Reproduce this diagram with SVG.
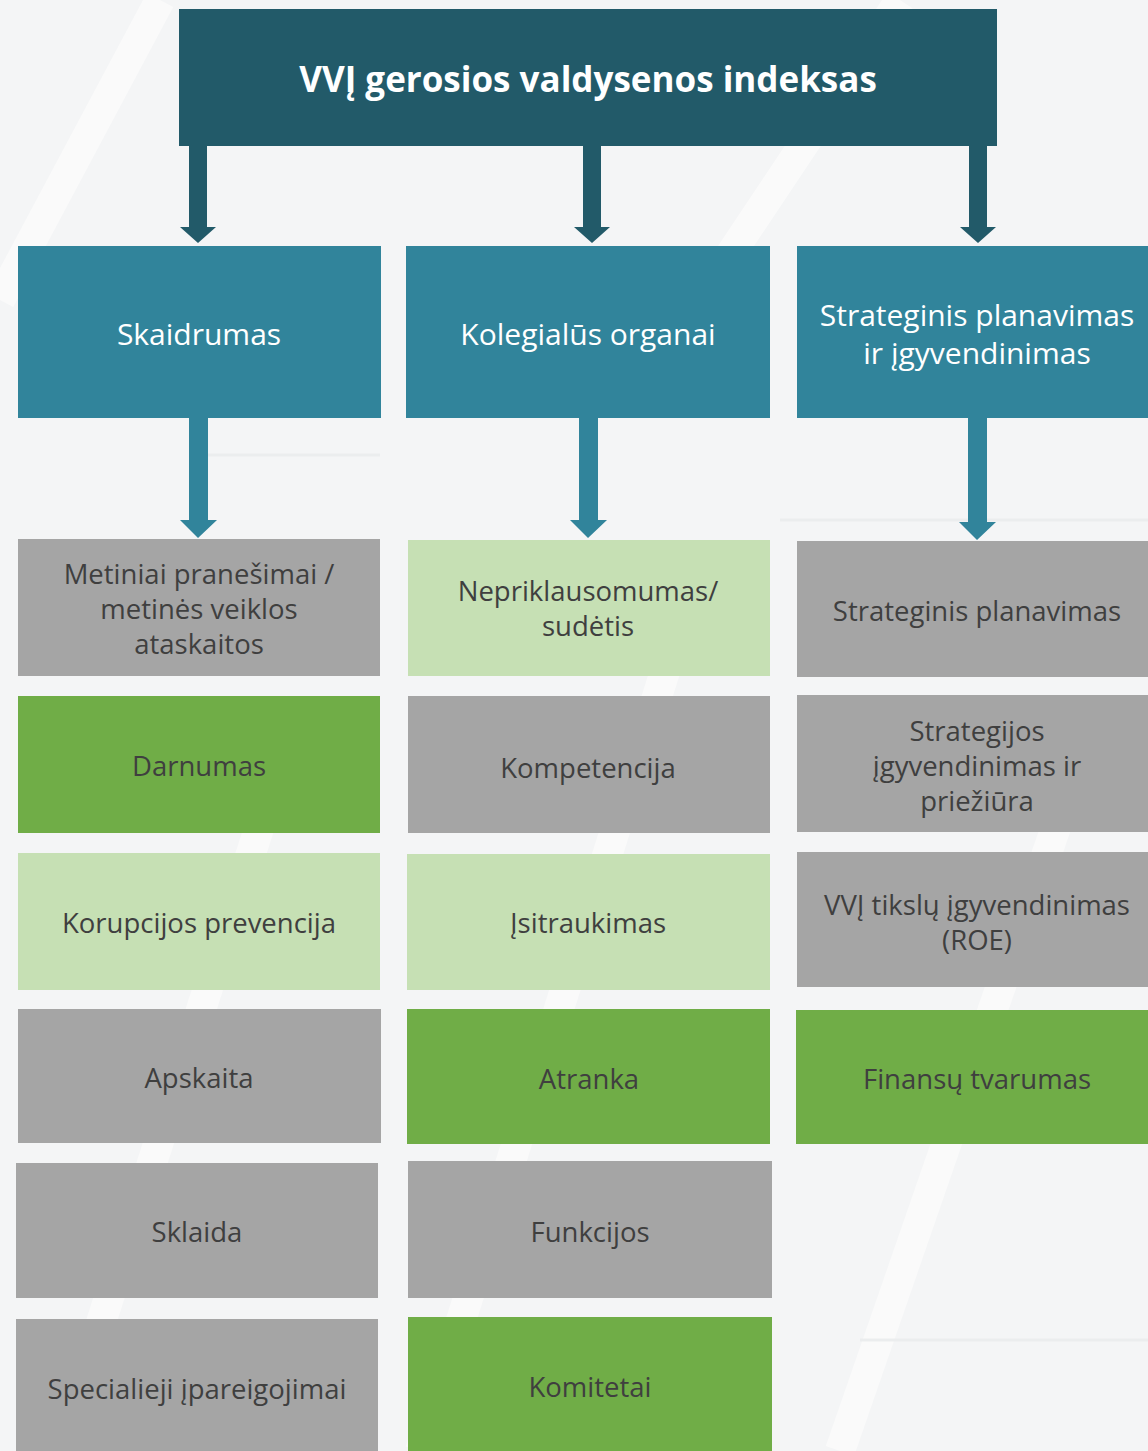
<svg xmlns="http://www.w3.org/2000/svg" width="1148" height="1451" viewBox="0 0 1148 1451">
<defs>
<style>
.bg{fill:#f4f5f6}
.top{fill:#225a69}
.l2{fill:#31849b}
.gray{fill:#a5a5a5}
.green{fill:#70ad47}
.lgreen{fill:#c6e0b4}
.ttl{font-family:"Open Sans","Noto Sans",sans-serif;font-weight:bold;font-size:35px;fill:#ffffff;text-anchor:middle;dominant-baseline:central}
.t2{font-family:"Open Sans","Noto Sans",sans-serif;font-size:30px;fill:#ffffff;text-anchor:middle;dominant-baseline:central}
.t3{font-family:"Open Sans","Noto Sans",sans-serif;font-size:27.5px;fill:#3f3f3f;text-anchor:middle;dominant-baseline:central}
.a1{fill:#225a69}
.a2{fill:#31849b}
.deco{fill:none;stroke:#ebedee;stroke-width:3}
.deco2{fill:none;stroke:#fafafa;stroke-width:30}
</style>
</defs>
<rect class="bg" x="0" y="0" width="1148" height="1451"/>
<g id="background">
<path class="deco2" d="M60 1451 L300 700 M420 1451 L700 560 M840 1451 L1100 700 M0 300 L160 0 M700 300 L900 0"/>
<path class="deco" d="M230 1165 L375 1165 M540 1180 L760 1180 M860 1340 L1148 1340 M200 455 L380 455 M780 520 L1148 520"/>
</g>
<g id="connectors">
<path class="a1" d="M189 146 H207 V227 H216 L198 243 L180 227 H189 Z"/>
<path class="a1" d="M583 146 H601 V227 H610 L592 243 L574 227 H583 Z"/>
<path class="a1" d="M969 146 H987 V227 H996 L978 243 L960 227 H969 Z"/>
<path class="a2" d="M189 418 H208 V520 H217 L198 538 L180 520 H189 Z"/>
<path class="a2" d="M579 418 H598 V520 H607 L588 538 L570 520 H579 Z"/>
<path class="a2" d="M968 418 H987 V522 H996 L977 540 L959 522 H968 Z"/>
</g>
<g id="root"><rect class="top" x="179" y="9" width="818" height="137"/><text class="ttl" x="588" y="78">VVĮ gerosios valdysenos indeksas</text></g>
<g id="skaidrumas"><rect class="l2" x="18" y="246" width="363" height="172"/><text class="t2" x="199" y="333">Skaidrumas</text></g>
<g id="kolegialus"><rect class="l2" x="406" y="246" width="364" height="172"/><text class="t2" x="588" y="333">Kolegialūs organai</text></g>
<g id="strateginis"><rect class="l2" x="797" y="246" width="351" height="172"/><text class="t2" x="977" y="314">Strateginis planavimas</text><text class="t2" x="977" y="352">ir įgyvendinimas</text></g>

<g id="metiniai"><rect class="gray" x="18" y="539" width="362" height="137"/><text class="t3" x="199" y="573">Metiniai pranešimai /</text><text class="t3" x="199" y="608">metinės veiklos</text><text class="t3" x="199" y="643">ataskaitos</text></g>
<g id="darnumas"><rect class="green" x="18" y="696" width="362" height="137"/><text class="t3" x="199" y="765">Darnumas</text></g>
<g id="korupcijos"><rect class="lgreen" x="18" y="853" width="362" height="137"/><text class="t3" x="199" y="922">Korupcijos prevencija</text></g>
<g id="apskaita"><rect class="gray" x="18" y="1009" width="363" height="134"/><text class="t3" x="199" y="1077">Apskaita</text></g>
<g id="sklaida"><rect class="gray" x="16" y="1163" width="362" height="135"/><text class="t3" x="197" y="1231">Sklaida</text></g>
<g id="specialieji"><rect class="gray" x="16" y="1319" width="362" height="132"/><text class="t3" x="197" y="1388">Specialieji įpareigojimai</text></g>

<g id="nepriklausomumas"><rect class="lgreen" x="408" y="540" width="362" height="136"/><text class="t3" x="588" y="590">Nepriklausomumas/</text><text class="t3" x="588" y="625">sudėtis</text></g>
<g id="kompetencija"><rect class="gray" x="408" y="696" width="362" height="137"/><text class="t3" x="588" y="767">Kompetencija</text></g>
<g id="isitraukimas"><rect class="lgreen" x="407" y="854" width="363" height="136"/><text class="t3" x="588" y="922">Įsitraukimas</text></g>
<g id="atranka"><rect class="green" x="407" y="1009" width="363" height="135"/><text class="t3" x="589" y="1078">Atranka</text></g>
<g id="funkcijos"><rect class="gray" x="408" y="1161" width="364" height="137"/><text class="t3" x="590" y="1231">Funkcijos</text></g>
<g id="komitetai"><rect class="green" x="408" y="1317" width="364" height="134"/><text class="t3" x="590" y="1386">Komitetai</text></g>

<g id="strateginis-planavimas"><rect class="gray" x="797" y="541" width="351" height="136"/><text class="t3" x="977" y="610">Strateginis planavimas</text></g>
<g id="strategijos"><rect class="gray" x="797" y="695" width="351" height="137"/><text class="t3" x="977" y="730">Strategijos</text><text class="t3" x="977" y="765">įgyvendinimas ir</text><text class="t3" x="977" y="800">priežiūra</text></g>
<g id="vvi-tikslu"><rect class="gray" x="797" y="852" width="351" height="135"/><text class="t3" x="977" y="904">VVĮ tikslų įgyvendinimas</text><text class="t3" x="977" y="939">(ROE)</text></g>
<g id="finansu"><rect class="green" x="796" y="1010" width="352" height="134"/><text class="t3" x="977" y="1078">Finansų tvarumas</text></g>
</svg>
